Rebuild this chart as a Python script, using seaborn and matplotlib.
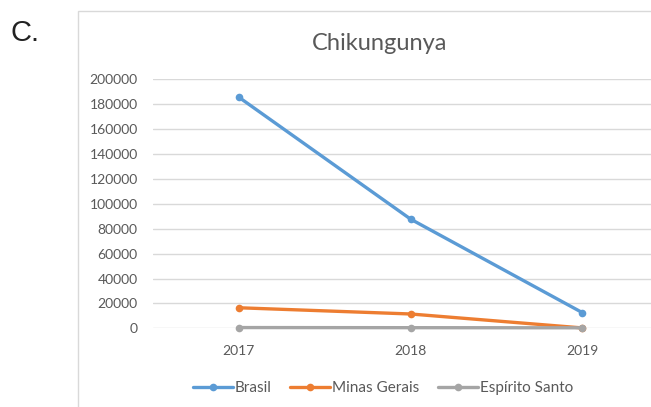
import matplotlib
matplotlib.use("Agg")
import matplotlib.pyplot as plt
from matplotlib.patches import Rectangle
import seaborn as sns
import pandas as pd

years = ["2017", "2018", "2019"]
brasil = [185600, 87700, 12600]
minas_gerais = [16500, 11500, 300]
espirito_santo = [600, 500, 400]
series_names = ["Brasil", "Minas Gerais", "Espírito Santo"]
colors = ["#5B9BD5", "#ED7D31", "#A5A5A5"]
y_ticks = [0, 20000, 40000, 60000, 80000, 100000, 120000, 140000, 160000, 180000, 200000]

rows = []
for name, vals in zip(series_names, [brasil, minas_gerais, espirito_santo]):
    for i, (yr, v) in enumerate(zip(years, vals)):
        rows.append({"pos": i, "year": yr, "value": v, "series": name})
df = pd.DataFrame(rows)

sns.set_theme(style="white")
plt.rcParams["font.family"] = ["Lato", "DejaVu Sans"]

W, H = 651, 407
fig = plt.figure(figsize=(W / 100, H / 100), dpi=100)
fig.patch.set_facecolor("white")

# chart frame
fig.patches.append(Rectangle((78 / W, -0.1), 1.0, 1 - 11 / H + 0.1, transform=fig.transFigure,
                             fill=False, edgecolor="#D9D9D9", linewidth=1.0, zorder=0))

left = 153 / W
bottom = 1 - 328.3 / H
top = 1 - 79.3 / H
ax = fig.add_axes([left, bottom, 1.0 - left, top - bottom])

sns.lineplot(data=df, x="pos", y="value", hue="series", hue_order=series_names,
             palette=colors, marker="o", markersize=5.5, markeredgewidth=0,
             linewidth=2.4, ax=ax, zorder=3, clip_on=False)

ax.set_xlim(-0.5, 2.40)
ax.set_ylim(0, 200000)
ax.set_yticks(y_ticks)
ax.set_yticklabels([str(t) for t in y_ticks])
ax.set_xticks(range(len(years)))
ax.set_xticklabels(years)
ax.set_xlabel("")
ax.set_ylabel("")
for s in ax.spines.values():
    s.set_visible(False)
ax.grid(axis="y", color="#D9D9D9", linewidth=1.0)
ax.grid(axis="x", visible=False)
ax.set_axisbelow(True)
ax.tick_params(axis="both", length=0, labelsize=10, labelcolor="#595959")
ax.tick_params(axis="y", pad=11)
ax.tick_params(axis="x", pad=12)

handles, labels = ax.get_legend_handles_labels()
ax.get_legend().remove()
fig.legend(handles, labels, loc="center", bbox_to_anchor=(383 / W, 1 - 388 / H),
           ncol=3, frameon=False, fontsize=11, handlelength=2.6, handletextpad=0.15,
           columnspacing=1.2, labelcolor="#595959")

fig.text(380 / W, 1 - 43 / H, "Chikungunya", ha="center", va="center",
         fontsize=17, color="#595959")
fig.text(10 / W, 1 - 33 / H, "C.", ha="left", va="center", fontsize=21,
         color="#222222", family=["Liberation Sans", "DejaVu Sans"])

fig.savefig("out.png", dpi=100)
